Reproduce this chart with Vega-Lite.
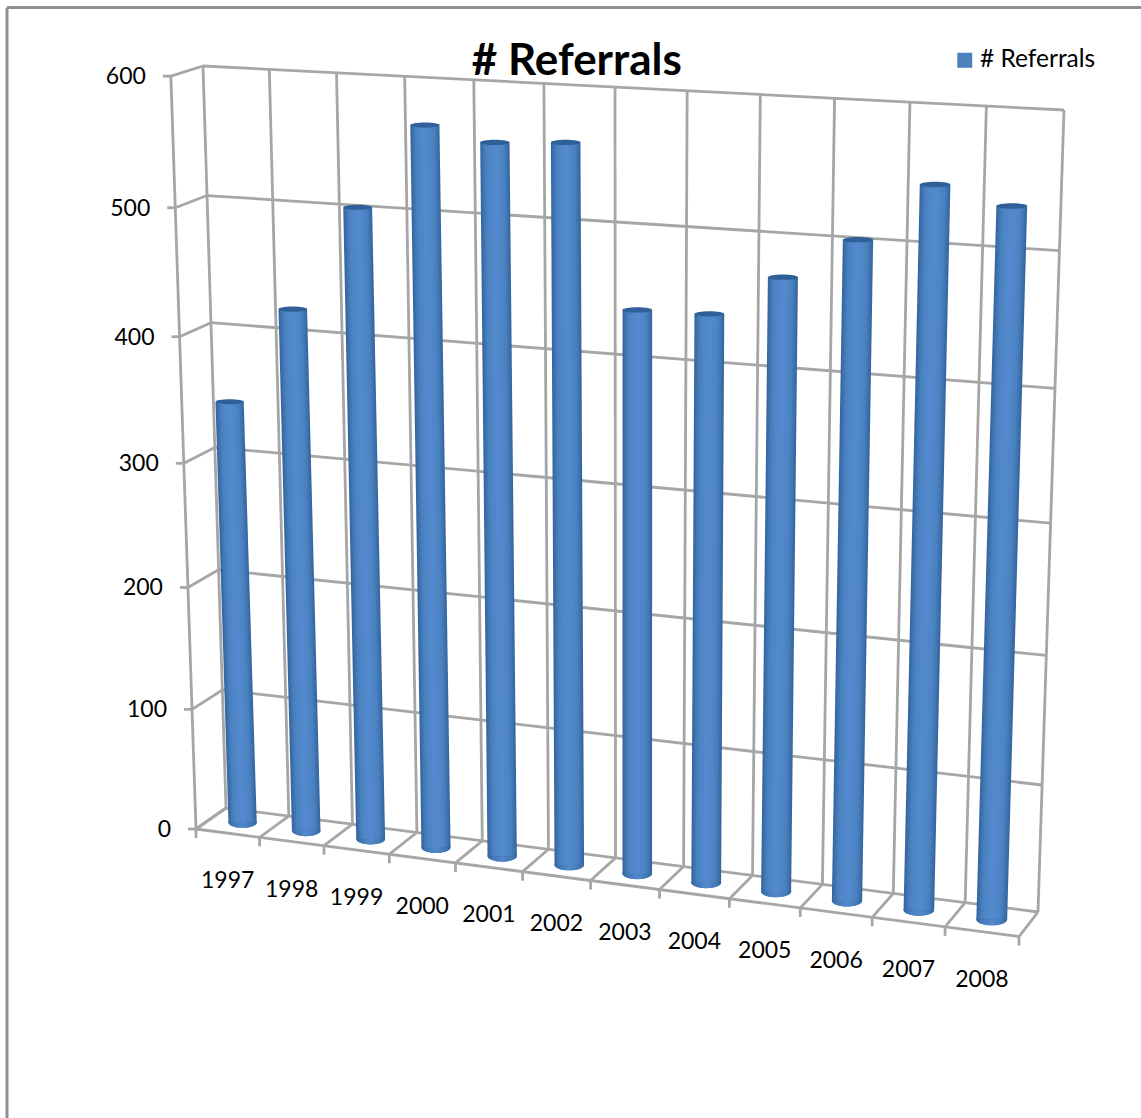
{
  "$schema": "https://vega.github.io/schema/vega-lite/v6.json",
  "width": 1134.5,
  "height": 1111,
  "padding": {"left": 6.5, "top": 7, "right": 0, "bottom": 0},
  "autosize": "none",
  "background": "white",
  "view": {"stroke": null},
  "title": {"text": "# Referrals", "font": "Lato", "fontWeight": "bold", "fontSize": 44, "color": "#000000", "anchor": "middle", "frame": "group", "dx": 3, "dy": 77, "offset": 0},
  "datasets": {
    "referrals": [
      {"year": 1997, "referrals": 345},
      {"year": 1998, "referrals": 422},
      {"year": 1999, "referrals": 504},
      {"year": 2000, "referrals": 569},
      {"year": 2001, "referrals": 559},
      {"year": 2002, "referrals": 562},
      {"year": 2003, "referrals": 441},
      {"year": 2004, "referrals": 442},
      {"year": 2005, "referrals": 473},
      {"year": 2006, "referrals": 504},
      {"year": 2007, "referrals": 547},
      {"year": 2008, "referrals": 535}
    ],
    "levels": [
      {"level": 0}, {"level": 100}, {"level": 200}, {"level": 300}, {"level": 400}, {"level": 500}, {"level": 600}
    ],
    "wireframe": [
      {"part": "wall level", "at": 0}, {"part": "wall level", "at": 100}, {"part": "wall level", "at": 200}, {"part": "wall level", "at": 300}, {"part": "wall level", "at": 400}, {"part": "wall level", "at": 500}, {"part": "wall level", "at": 600},
      {"part": "side level", "at": 0}, {"part": "side level", "at": 100}, {"part": "side level", "at": 200}, {"part": "side level", "at": 300}, {"part": "side level", "at": 400}, {"part": "side level", "at": 500}, {"part": "side level", "at": 600},
      {"part": "wall slot", "at": 0}, {"part": "wall slot", "at": 1}, {"part": "wall slot", "at": 2}, {"part": "wall slot", "at": 3}, {"part": "wall slot", "at": 4}, {"part": "wall slot", "at": 5}, {"part": "wall slot", "at": 6}, {"part": "wall slot", "at": 7}, {"part": "wall slot", "at": 8}, {"part": "wall slot", "at": 9}, {"part": "wall slot", "at": 10}, {"part": "wall slot", "at": 11}, {"part": "wall slot", "at": 12},
      {"part": "floor slot", "at": 0}, {"part": "floor slot", "at": 1}, {"part": "floor slot", "at": 2}, {"part": "floor slot", "at": 3}, {"part": "floor slot", "at": 4}, {"part": "floor slot", "at": 5}, {"part": "floor slot", "at": 6}, {"part": "floor slot", "at": 7}, {"part": "floor slot", "at": 8}, {"part": "floor slot", "at": 9}, {"part": "floor slot", "at": 10}, {"part": "floor slot", "at": 11}, {"part": "floor slot", "at": 12},
      {"part": "front edge", "at": 0},
      {"part": "side edge", "at": 0}
    ],
    "ticks": [
      {"part": "side tick", "at": 0}, {"part": "side tick", "at": 100}, {"part": "side tick", "at": 200}, {"part": "side tick", "at": 300}, {"part": "side tick", "at": 400}, {"part": "side tick", "at": 500}, {"part": "side tick", "at": 600},
      {"part": "front tick", "at": 0}, {"part": "front tick", "at": 1}, {"part": "front tick", "at": 2}, {"part": "front tick", "at": 3}, {"part": "front tick", "at": 4}, {"part": "front tick", "at": 5}, {"part": "front tick", "at": 6}, {"part": "front tick", "at": 7}, {"part": "front tick", "at": 8}, {"part": "front tick", "at": 9}, {"part": "front tick", "at": 10}, {"part": "front tick", "at": 11}, {"part": "front tick", "at": 12}
    ]
  },
  "encoding": {
    "x": {"field": "px", "type": "quantitative", "scale": {"domain": [6.5, 1141], "nice": false, "zero": false}, "axis": {"orient": "top", "title": null, "labels": false, "ticks": false, "grid": false, "domainColor": "#8f8f8f", "domainWidth": 3}},
    "y": {"field": "py", "type": "quantitative", "scale": {"domain": [1118, 7], "nice": false, "zero": false}, "axis": {"orient": "left", "title": null, "labels": false, "ticks": false, "grid": false, "domainColor": "#8f8f8f", "domainWidth": 3}}
  },
  "layer": [
    {
      "description": "Walls and floor of the 3-D box: perspective projection of (category, value, depth).",
      "data": {"name": "wireframe"},
      "transform": [
        {"calculate": "indexof(['wall level','side level','side edge','front edge'], datum.part) >= 0 ? 0 : datum.at / 12", "as": "s1"},
        {"calculate": "indexof(['wall level','side level'], datum.part) >= 0 ? datum.at / 600 : 0", "as": "t1"},
        {"calculate": "indexof(['side edge','front edge'], datum.part) >= 0 ? 1 : 0", "as": "w1"},
        {"calculate": "indexof(['wall level','front edge'], datum.part) >= 0 ? 1 : datum.s1", "as": "s2"},
        {"calculate": "indexof(['wall slot','side edge'], datum.part) >= 0 ? 1 : datum.t1", "as": "t2"},
        {"calculate": "indexof(['side level','floor slot'], datum.part) >= 0 ? 1 : datum.w1", "as": "w2"},
        {"calculate": "(731.23*datum.s1-34.08*datum.t1-32.97*datum.w1+226)/(1-0.07781*datum.s1-0.05456*datum.t1-0.01516*datum.w1)", "as": "px"},
        {"calculate": "(33.04*datum.s1-745.6*datum.t1+8.43*datum.w1+808)/(1-0.07781*datum.s1-0.05456*datum.t1-0.01516*datum.w1)", "as": "py"},
        {"calculate": "(731.23*datum.s2-34.08*datum.t2-32.97*datum.w2+226)/(1-0.07781*datum.s2-0.05456*datum.t2-0.01516*datum.w2)", "as": "px2"},
        {"calculate": "(33.04*datum.s2-745.6*datum.t2+8.43*datum.w2+808)/(1-0.07781*datum.s2-0.05456*datum.t2-0.01516*datum.w2)", "as": "py2"}
      ],
      "mark": {"type": "rule", "color": "#a6a6a6", "strokeWidth": 2.8},
      "encoding": {"x2": {"field": "px2"}, "y2": {"field": "py2"}}
    },
    {
      "description": "Short tick marks on the front edges of the box.",
      "data": {"name": "ticks"},
      "transform": [
        {"calculate": "datum.part == 'front tick' ? datum.at / 12 : 0", "as": "s"},
        {"calculate": "datum.part == 'side tick' ? datum.at / 600 : 0", "as": "t"},
        {"calculate": "(731.23*datum.s-34.08*datum.t-32.97+226)/(1-0.07781*datum.s-0.05456*datum.t-0.01516)", "as": "px"},
        {"calculate": "(33.04*datum.s-745.6*datum.t+8.43+808)/(1-0.07781*datum.s-0.05456*datum.t-0.01516)", "as": "py"},
        {"calculate": "datum.part == 'side tick' ? datum.px - 8 : datum.px", "as": "px2"},
        {"calculate": "datum.part == 'front tick' ? datum.py + 9 : datum.py", "as": "py2"}
      ],
      "mark": {"type": "rule", "color": "#a6a6a6", "strokeWidth": 2.8},
      "encoding": {"x2": {"field": "px2"}, "y2": {"field": "py2"}}
    },
    {
      "description": "Value axis labels beside the front edge of the side wall.",
      "data": {"name": "levels"},
      "transform": [
        {"calculate": "datum.level / 600", "as": "t"},
        {"calculate": "(-34.08*datum.t-32.97+226)/(1-0.05456*datum.t-0.01516) - 25", "as": "px"},
        {"calculate": "(-745.6*datum.t+8.43+808)/(1-0.05456*datum.t-0.01516) + 1", "as": "py"}
      ],
      "mark": {"type": "text", "font": "Lato", "fontSize": 23, "align": "right", "baseline": "middle", "color": "#000000"},
      "encoding": {"text": {"field": "level", "type": "quantitative"}}
    },
    {
      "description": "Year labels under the front edge of the floor.",
      "data": {"name": "referrals"},
      "transform": [
        {"calculate": "(datum.year - 1997 + 0.5) / 12", "as": "s"},
        {"calculate": "(731.23*datum.s-32.97+226)/(1-0.07781*datum.s-0.01516)", "as": "px"},
        {"calculate": "(33.04*datum.s+8.43+808)/(1-0.07781*datum.s-0.01516) + 48", "as": "py"}
      ],
      "mark": {"type": "text", "font": "Lato", "fontSize": 23, "align": "center", "baseline": "middle", "color": "#000000"},
      "encoding": {"text": {"field": "year", "type": "nominal"}}
    },
    {
      "description": "Cylinders, one per year, standing midway along the depth of the floor.",
      "data": {"name": "referrals"},
      "transform": [
        {"calculate": "(datum.year - 1997 + 0.5) / 12", "as": "s"},
        {"calculate": "datum.referrals / 600", "as": "t"},
        {"calculate": "(731.23*datum.s-16.485+226)/(1-0.07781*datum.s-0.00758)", "as": "px"},
        {"calculate": "(33.04*datum.s+4.215+808)/(1-0.07781*datum.s-0.00758)", "as": "py"},
        {"calculate": "(731.23*datum.s-34.08*datum.t-16.485+226)/(1-0.07781*datum.s-0.05456*datum.t-0.00758) - 0.5", "as": "px2"},
        {"calculate": "(33.04*datum.s-745.6*datum.t+4.215+808)/(1-0.07781*datum.s-0.05456*datum.t-0.00758)", "as": "py2"},
        {"calculate": "27.5/(1-0.07781*datum.s-0.02728*datum.t-0.00758)", "as": "girth"},
        {"calculate": "datum.girth*datum.girth", "as": "cap"},
        {"calculate": "datum.girth*0.92", "as": "g2"},
        {"calculate": "datum.girth*0.82", "as": "g3"},
        {"calculate": "datum.girth*0.68", "as": "g4"},
        {"calculate": "datum.girth*0.48", "as": "g5"},
        {"calculate": "datum.girth*0.24", "as": "g6"}
      ],
      "layer": [
        {
          "mark": {"type": "point", "filled": true, "opacity": 1, "shape": "M-1,0A1,0.38 0 1 0 1,0A1,0.38 0 1 0 -1,0Z"},
          "encoding": {
            "size": {"field": "cap", "type": "quantitative", "scale": null},
            "color": {"datum": "# Referrals", "scale": {"range": ["#4f81bd"]}, "legend": {"orient": "none", "legendX": 946, "legendY": 41, "title": null, "symbolType": "square", "symbolSize": 225, "labelFont": "Lato", "labelFontSize": 24.5, "labelColor": "#000000", "labelOffset": 3}}
          }
        },
        {
          "mark": {"type": "point", "filled": true, "opacity": 1, "shape": "M-1,0A1,0.38 0 1 0 1,0A1,0.38 0 1 0 -1,0Z", "color": {"gradient": "linear", "x1": 0, "x2": 1, "y1": 0, "y2": 0, "stops": [{"offset": 0, "color": "#34669f"}, {"offset": 0.15, "color": "#4277b4"}, {"offset": 0.5, "color": "#5289cc"}, {"offset": 0.85, "color": "#4277b4"}, {"offset": 1, "color": "#34669f"}]}},
          "encoding": {"size": {"field": "cap", "type": "quantitative", "scale": null}}
        },
        {"mark": {"type": "rule", "color": "#34669f"}, "encoding": {"x2": {"field": "px2"}, "y2": {"field": "py2"}, "size": {"field": "girth", "type": "quantitative", "scale": null}}},
        {"mark": {"type": "rule", "color": "#3b6ea9"}, "encoding": {"x2": {"field": "px2"}, "y2": {"field": "py2"}, "size": {"field": "g2", "type": "quantitative", "scale": null}}},
        {"mark": {"type": "rule", "color": "#4277b4"}, "encoding": {"x2": {"field": "px2"}, "y2": {"field": "py2"}, "size": {"field": "g3", "type": "quantitative", "scale": null}}},
        {"mark": {"type": "rule", "color": "#4a81c0"}, "encoding": {"x2": {"field": "px2"}, "y2": {"field": "py2"}, "size": {"field": "g4", "type": "quantitative", "scale": null}}},
        {"mark": {"type": "rule", "color": "#4f86c8"}, "encoding": {"x2": {"field": "px2"}, "y2": {"field": "py2"}, "size": {"field": "g5", "type": "quantitative", "scale": null}}},
        {"mark": {"type": "rule", "color": "#5289cc"}, "encoding": {"x2": {"field": "px2"}, "y2": {"field": "py2"}, "size": {"field": "g6", "type": "quantitative", "scale": null}}},
        {
          "mark": {"type": "point", "filled": true, "opacity": 1, "color": "#2f5f98", "shape": "M-1,0A1,0.18 0 1 0 1,0A1,0.18 0 1 0 -1,0Z"},
          "encoding": {"x": {"field": "px2", "type": "quantitative"}, "y": {"field": "py2", "type": "quantitative"}, "size": {"field": "cap", "type": "quantitative", "scale": null}}
        }
      ]
    }
  ]
}
